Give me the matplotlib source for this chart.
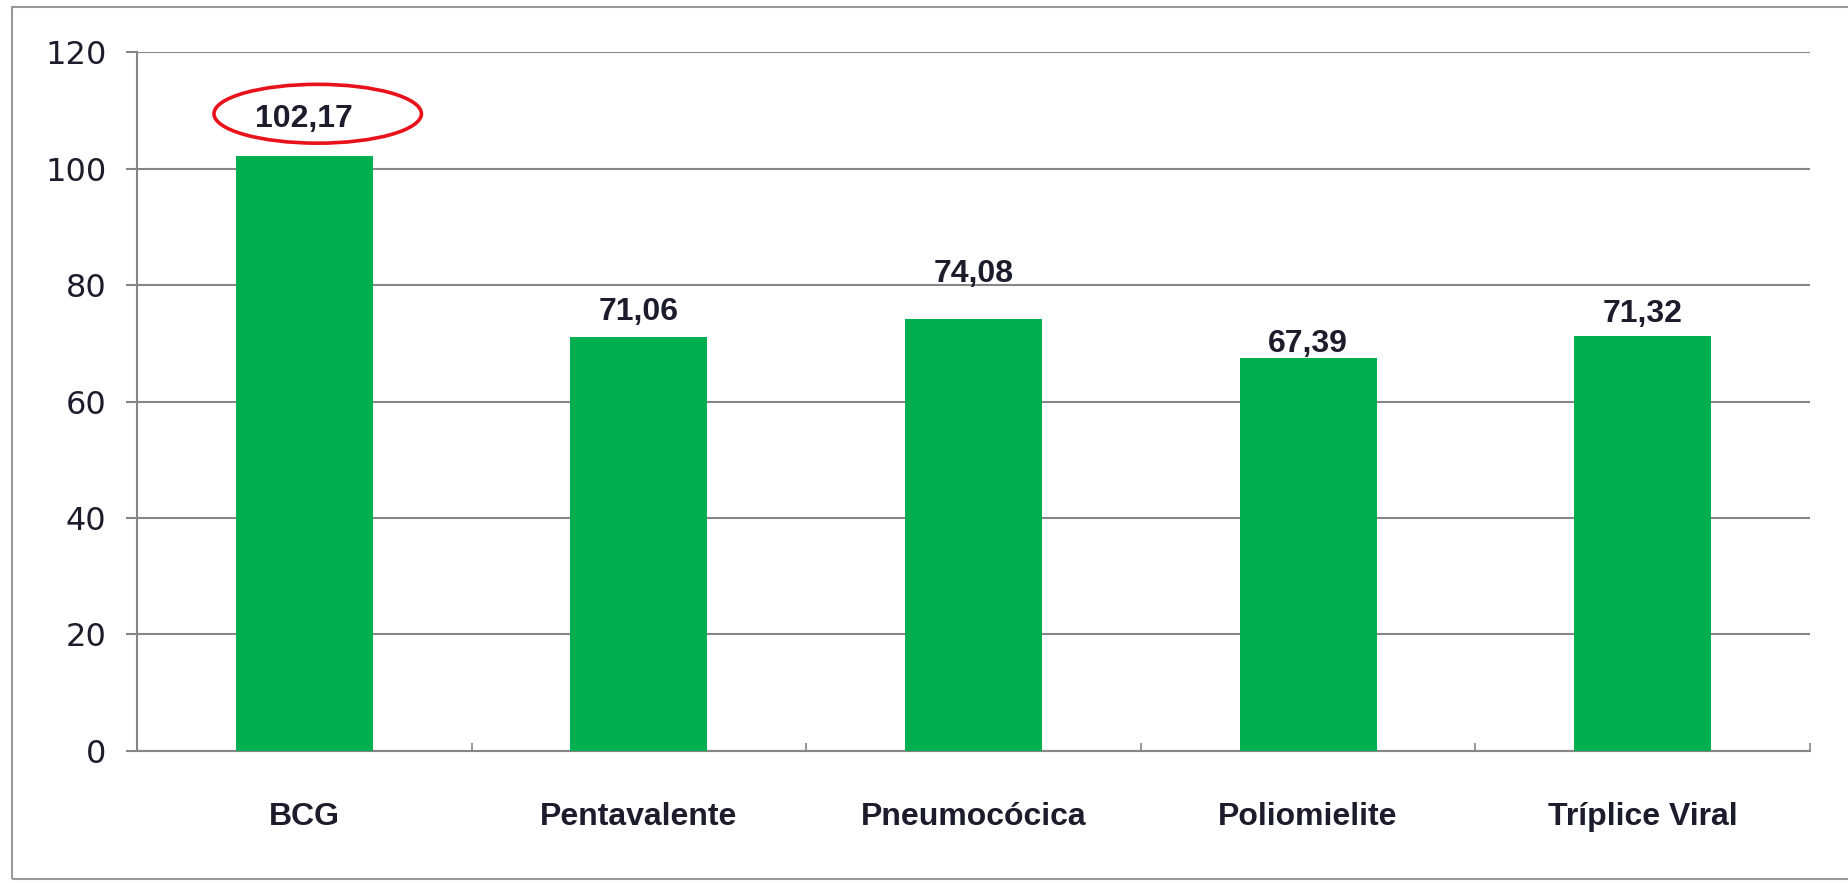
import numpy as np
import matplotlib.pyplot as plt
from matplotlib.patches import Ellipse, Rectangle

# Cobertura vacinal por imunobiológico
vacinas = ["BCG", "Pentavalente", "Pneumocócica", "Poliomielite", "Tríplice Viral"]
cobertura = [102.17, 71.06, 74.08, 67.39, 71.32]

# deslocamento vertical de cada rótulo acima da barra (pt)
desloc_rotulo = [21, 12, 27, 5, 10]

verde = "#00B050"
cinza = "#868686"
texto = "#1c1c2c"

fig = plt.figure(figsize=(18.49, 8.83), dpi=100)
ax = fig.add_axes([0.0741, 0.1495, 0.9048, 0.7916])

x = np.arange(len(vacinas))
barras = ax.bar(x, cobertura, width=0.41, color=verde, zorder=3)

for xi, v, d in zip(x, cobertura, desloc_rotulo):
    rotulo = f"{v:.2f}".replace(".", ",")
    ax.annotate(rotulo, (xi, v), xytext=(0, d), textcoords="offset points",
                ha="center", va="baseline", fontsize=23, fontweight="bold",
                family=["Liberation Sans", "DejaVu Sans"], color=texto, zorder=4)

ax.set_xlim(-0.5, len(vacinas) - 0.5)
ax.set_ylim(0, 120)
ax.set_yticks(np.arange(0, 121, 20))
ax.yaxis.grid(True, color=cinza, linewidth=1.5, zorder=0)
ax.set_axisbelow(True)

ax.set_xticks(x)
ax.set_xticklabels(vacinas, fontsize=23, fontweight="bold",
                   family=["Liberation Sans", "DejaVu Sans"], color=texto)
ax.set_xticks(np.arange(0.5, len(vacinas) - 0.4, 1), minor=True)
ax.tick_params(axis="x", which="major", length=0, pad=37)
ax.tick_params(axis="x", which="minor", direction="in", length=6, width=1.2, color=cinza)
ax.tick_params(axis="y", direction="out", length=8, width=1.5, color=cinza,
               pad=14, labelsize=23, labelcolor=texto)

for s in ["top", "right"]:
    ax.spines[s].set_visible(False)
for s in ["left", "bottom"]:
    ax.spines[s].set_color(cinza)
    ax.spines[s].set_linewidth(1.5)

# destaque em vermelho no valor da BCG
ax.add_patch(Ellipse((0.04, 109.4), 0.62, 10.1, fill=False, edgecolor="#e8121b",
                     linewidth=2.6, zorder=5, clip_on=False))

# moldura da figura
fig.patches.append(Rectangle((12 / 1849, 4 / 883), 1.1, 1 - 11 / 883,
                             transform=fig.transFigure, fill=False,
                             edgecolor="#9a9a9a", linewidth=1.5))

fig.savefig("out.png", dpi=100)
